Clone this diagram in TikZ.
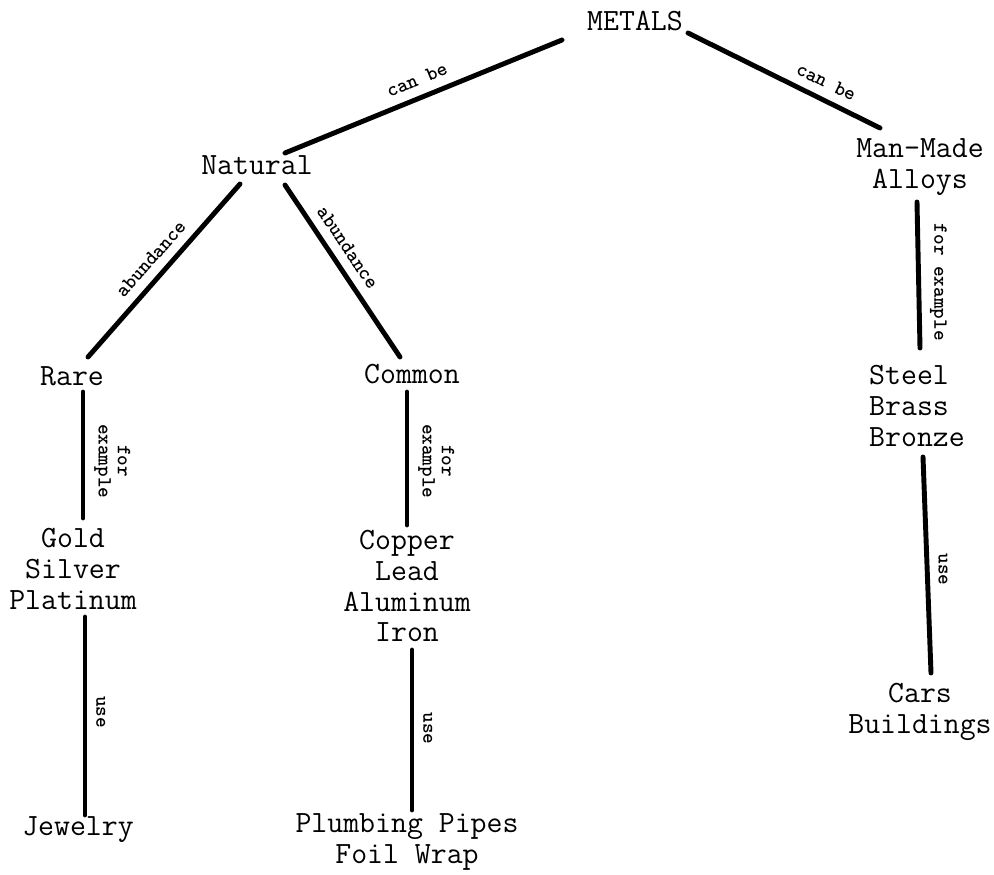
\documentclass[tikz,border=0pt]{standalone}
\usepackage{fontspec}

\begin{document}
\begin{tikzpicture}[x=0.02cm, y=-0.02cm,
    every node/.style={font=\ttfamily\fontsize{17.6}{17.6}\selectfont, align=center, inner sep=3pt},
    lbl/.style={font=\ttfamily\bfseries\fontsize{11.5}{11}\selectfont, inner sep=5pt},
    link/.style={line width=2.8pt, line cap=round}]
    \useasboundingbox (0,0) rectangle (994,875);
    % concepts
    \node (metals) at (635,21) {METALS};
    \node (natural) at (257,165) {Natural};
    \node (alloys) at (920,167) {Man-Made\\Alloys};
    \node (rare) at (72,376) {Rare};
    \node (common) at (412,374) {Common};
    \node (gold) at (73,569) {Gold\\Silver\\Platinum};
    \node (copper) at (407,586) {Copper\\Lead\\Aluminum\\Iron};
    \node[align=left] (steel) at (917,406) {Steel\\Brass\\Bronze};
    \node (jewelry) at (78,830) {Jewelry};
    \node (plumbing) at (407,842) {Plumbing Pipes\\Foil Wrap};
    \node (cars) at (920,712) {Cars\\Buildings};
    % links
    \draw[link] ([shift={(-73,19)}]metals.center) -- ([shift={(28,-12)}]natural.center)
        node[lbl, midway, above, sloped] {can be};
    \draw[link] ([shift={(53,12)}]metals.center) -- ([shift={(-40,-39)}]alloys.center)
        node[lbl, pos=0.68, above, sloped] {can be};
    \draw[link] ([shift={(-17,19)}]natural.center) -- ([shift={(16,-19)}]rare.center)
        node[lbl, midway, above, sloped] {abundance};
    \draw[link] ([shift={(28,20)}]natural.center) -- ([shift={(-12,-17)}]common.center)
        node[lbl, pos=0.42, above, sloped] {abundance};
    \draw[link] ([shift={(11,16)}]rare.center) -- ([shift={(10,-51)}]gold.center)
        node[lbl, pos=0.55, rotate=-90, anchor=south] {for\\example};
    \draw[link] ([shift={(-5,18)}]common.center) -- ([shift={(0,-61)}]copper.center)
        node[lbl, pos=0.52, rotate=-90, anchor=south] {for\\example};
    \draw[link] ([shift={(-3,35)}]alloys.center) -- ([shift={(3,-58)}]steel.center)
        node[lbl, pos=0.55, rotate=-90, anchor=south] {for example};
    \draw[link] ([shift={(12,48)}]gold.center) -- ([shift={(7,-15)}]jewelry.center)
        node[lbl, pos=0.48, rotate=-90, anchor=south] {use};
    \draw[link] ([shift={(5,64)}]copper.center) -- ([shift={(5,-32)}]plumbing.center)
        node[lbl, pos=0.49, rotate=-90, anchor=south] {use};
    \draw[link] ([shift={(6,51)}]steel.center) -- ([shift={(11,-39)}]cars.center)
        node[lbl, pos=0.52, rotate=-90, anchor=south] {use};
\end{tikzpicture}
\end{document}
